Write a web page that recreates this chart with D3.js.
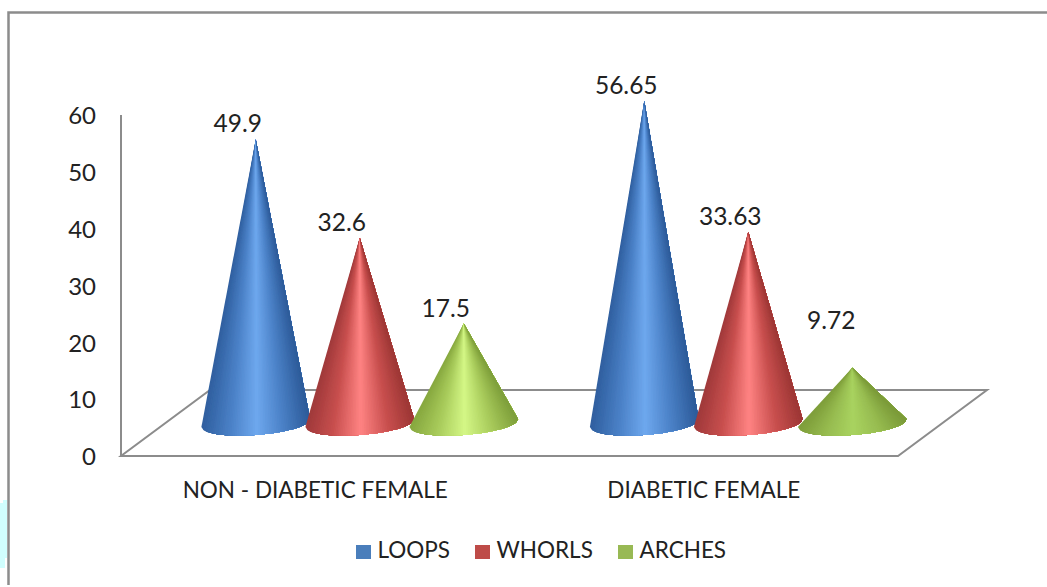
<!DOCTYPE html>
<html lang="en">
<head>
<meta charset="utf-8">
<title>Fingerprint patterns</title>
<script src="https://cdn.jsdelivr.net/npm/d3@7"></script>
<style>
  html, body { margin: 0; padding: 0; background: #fff; }
  svg { display: block; }
  text { font-family: Lato, "Open Sans", sans-serif; fill: #222; }
  .axis path { display: none; }
</style>
</head>
<body>
<script>
// values
var categories = ["NON - DIABETIC FEMALE", "DIABETIC FEMALE"];
var seriesNames = ["LOOPS", "WHORLS", "ARCHES"];
var loops = [49.9, 56.65];
var whorls = [32.6, 33.63];
var arches = [17.5, 9.72];
var valueLabels = [["49.9", "56.65"], ["32.6", "33.63"], ["17.5", "9.72"]];
var yTicks = [0, 10, 20, 30, 40, 50, 60];

var w = 1047, h = 587;
var gray = "#8c8c8c";

var svg = d3.select("body").append("svg").attr("width", w).attr("height", h);

// pale patch and picture frame
svg.append("path").attr("d", "M0,503H3V500H7V558H5V568H0Z").attr("fill", "#d0ffff");
svg.append("path")
   .attr("d", "M8.5,585V12.5H1047")
   .attr("fill", "none").attr("stroke", gray).attr("stroke-width", 2.5);

// scales: front edge of the floor, depth goes up and to the right
var x0 = d3.scaleBand().domain(categories).range([121, 898]);
var depthX = 89, depthY = 66;
var inner = d3.scalePoint().domain(seriesNames).range([-104, 104]);
var y = d3.scaleLinear().domain([0, 60]).range([456, 115]);

// floor
svg.append("path")
   .attr("d", d3.line()([[121, y(0)], [898, y(0)], [898 + depthX, y(0) - depthY], [121 + depthX, y(0) - depthY]]) + "Z")
   .attr("fill", "none").attr("stroke", gray).attr("stroke-width", 2);

// value axis
svg.append("line").attr("x1", 121).attr("x2", 121).attr("y1", y(60)).attr("y2", y(0))
   .attr("stroke", gray).attr("stroke-width", 2);
var yAxis = d3.axisLeft(y).tickValues(yTicks).tickSize(0).tickPadding(25);
svg.append("g").attr("class", "axis").attr("transform", "translate(121,1)").call(yAxis)
   .selectAll("text").style("font-size", "24px");

// category labels
svg.selectAll(".cat").data(categories).enter().append("text")
   .attr("class", "cat")
   .attr("x", function(d) { return x0(d) + x0.bandwidth() / 2; })
   .attr("y", 498)
   .attr("text-anchor", "middle")
   .attr("font-size", "22.5px")
   .text(function(d) { return d; });

// shading across a cone: dark edge, plateau, light stripe in the middle
var stops = [0, 0.25, 0.5, 0.75, 1];
var colors = [
  { shade: ["#2f5f9f", "#4a80c6", "#6ea8ee", "#4a80c6", "#2c5a98"], key: "#4a7ebb" },
  { shade: ["#a0393a", "#c9504f", "#ff8383", "#c9504f", "#9c3634"], key: "#be4b48" },
  { shade: ["#87a83f", "#a9cc5c", "#d4f786", "#a9cc5c", "#7e9e3a"], key: "#98b954" }
];
// the short cone on the right is duller in the source
var dullShade = ["#7e9e3a", "#97bc50", "#a9d35f", "#97bc50", "#7a9a38"];

// soft edge, the source picture is a little blurred
svg.append("defs").append("filter").attr("id", "soft")
   .attr("x", "-5%").attr("y", "-5%").attr("width", "110%").attr("height", "110%")
   .append("feGaussianBlur").attr("stdDeviation", 0.7);

// cones: painted left to right, each layer reaches from its slice to the right rim so no seams show
var rx = 54.5, ry = 12, tilt = -4.3 * Math.PI / 180;
var floorMid = depthY / 2;
var seriesValues = [loops, whorls, arches];
var sliceCount = 60;

function rimPoint(cx, base, a) {
  var px = rx * Math.cos(a), py = ry * Math.sin(a);
  return [cx + px * Math.cos(tilt) - py * Math.sin(tilt),
          base + px * Math.sin(tilt) + py * Math.cos(tilt)];
}

function drawCone(cx, base, top, shade) {
  var color = d3.scaleLinear().domain(stops).range(shade);
  var g = svg.append("g").attr("filter", "url(#soft)");
  // a = PI is the left rim, a = 0 the right rim, going round the front
  var rim = d3.range(sliceCount + 1).map(function(i) {
    return rimPoint(cx, base, Math.PI - Math.acos(1 - 2 * i / sliceCount));
  });
  d3.range(sliceCount).forEach(function(i) {
    g.append("path")
     .attr("d", d3.line()([[cx, top]].concat(rim.slice(i))) + "Z")
     .attr("fill", color((i + 0.5) / sliceCount));
  });
}

var labelShift = { dx: -18, dy: -7 };
categories.forEach(function(cat, ci) {
  seriesNames.forEach(function(name, si) {
    var v = seriesValues[si][ci];
    var cx = x0(cat) + x0.bandwidth() / 2 + depthX / 2 + inner(name);
    var base = y(0) - floorMid;
    var top = base - (y(0) - y(v));
    var isDull = si === 2 && ci === 1;
    drawCone(cx, base, top, isDull ? dullShade : colors[si].shade);

    // the 9.72 label sits well above its cone
    svg.append("text")
       .attr("x", cx + labelShift.dx + (isDull ? -3 : 0))
       .attr("y", top + labelShift.dy + (isDull ? -32 : 0))
       .attr("text-anchor", "middle")
       .attr("font-size", "24.5px")
       .text(valueLabels[si][ci]);
  });
});

// legend
var legendX = [356, 475, 618];
var legend = svg.selectAll(".legend").data(seriesNames).enter().append("g")
   .attr("class", "legend")
   .attr("transform", function(d, i) { return "translate(" + legendX[i] + ",545)"; });
legend.append("rect").attr("width", 15).attr("height", 14)
   .attr("fill", function(d, i) { return colors[i].key; });
legend.append("text").attr("x", 21.5).attr("y", 13).attr("font-size", "22.5px")
   .text(function(d) { return d; });
</script>
</body>
</html>
